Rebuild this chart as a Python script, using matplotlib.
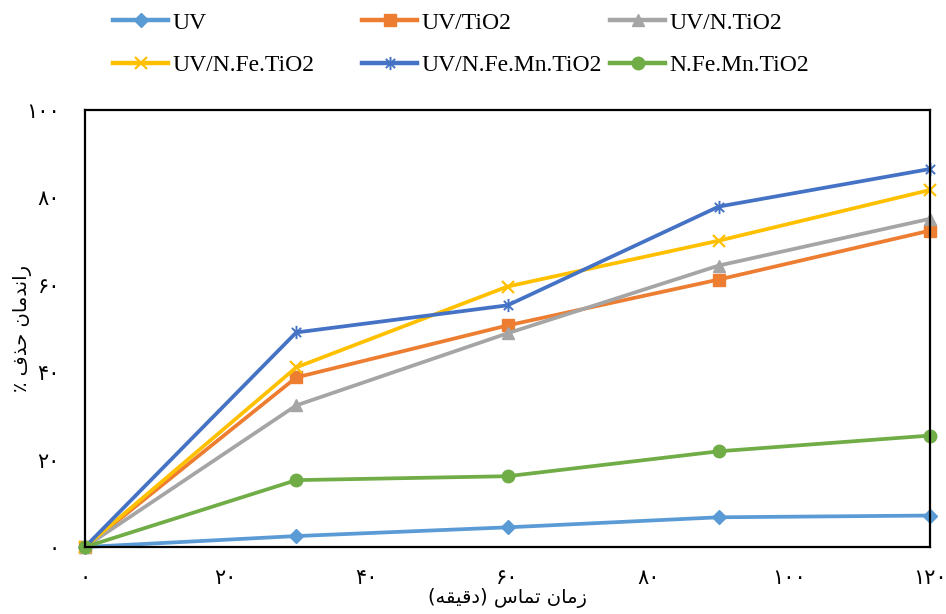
import matplotlib
matplotlib.use("Agg")
import matplotlib.pyplot as plt
from matplotlib.path import Path

# contact time (min) and removal efficiency (%) for each process
time_min = [0, 30, 60, 90, 120]
uv = [0, 2.5, 4.5, 6.8, 7.2]
uv_tio2 = [0, 38.8, 50.7, 61.2, 72.4]
uv_n_tio2 = [0, 32.4, 48.9, 64.4, 75.1]
uv_nfe_tio2 = [0, 41.1, 59.6, 70.1, 81.7]
uv_nfemn_tio2 = [0, 49.1, 55.3, 77.9, 86.5]
nfemn_tio2 = [0, 15.3, 16.2, 21.9, 25.5]

labels = ["UV", "UV/TiO2", "UV/N.TiO2", "UV/N.Fe.TiO2", "UV/N.Fe.Mn.TiO2", "N.Fe.Mn.TiO2"]
colors = ["#5B9BD5", "#ED7D31", "#A5A5A5", "#FFC000", "#4472C4", "#70AD47"]

x_ticks = [0, 20, 40, 60, 80, 100, 120]
y_ticks = [0, 20, 40, 60, 80, 100]

# axis titles, shaped by hand (presentation forms, visual order)
# x: "زمان تماس (دقیقه)"   y: "راندمان حذف ٪"
xlabel_fa = ("(\uFEEA\uFED8\uFEF4\uFED7\uFEA9) "
             "\uFEB1\uFE8E\uFEE4\uFE97 "
             "\uFEE5\uFE8E\uFEE3\uFEAF")
ylabel_fa = ("\u066A \uFED1\uFEAC\uFEA3 "
             "\uFEE5\uFE8E\uFEE3\uFEAA\uFEE7\uFE8D\uFEAD")

fa_digits = str.maketrans("0123456789", "۰۱۲۳۴۵۶۷۸۹")

# excel style asterisk: an x with a vertical bar
star = Path([(0, -1), (0, 1), (-0.7, -0.7), (0.7, 0.7), (-0.7, 0.7), (0.7, -0.7)],
            [Path.MOVETO, Path.LINETO] * 3)

fig = plt.figure(figsize=(9.46, 6.14), dpi=100)
ax = fig.add_axes([85 / 946, 1 - 547 / 614, 845 / 946, 437 / 614])

series = [uv, uv_tio2, uv_n_tio2, uv_nfe_tio2, uv_nfemn_tio2, nfemn_tio2]
styles = [
    dict(marker="D", ms=7.5),
    dict(marker="s", ms=8),
    dict(marker="^", ms=9),
    dict(marker="x", ms=8.5, mew=1.6, mfc="none"),
    dict(marker=star, ms=9.5, mew=1.4, mfc="none"),
    dict(marker="o", ms=9),
]
lines = []
for ys, lab, c, st in zip(series, labels, colors, styles):
    ln, = ax.plot(time_min, ys, color=c, lw=2.7, label=lab, clip_on=False,
                  mec=c, **({"mfc": c} | st))
    lines.append(ln)

ax.set_xlim(0, 120)
ax.set_ylim(0, 100)
ax.set_xticks(x_ticks)
ax.set_yticks(y_ticks)
ax.set_xticklabels([str(v).translate(fa_digits) for v in x_ticks], family="DejaVu Sans", fontsize=15)
ax.set_yticklabels([str(v).translate(fa_digits) for v in y_ticks], family="DejaVu Sans", fontsize=15)
ax.tick_params(axis="both", length=0)
ax.tick_params(axis="x", pad=15)
ax.tick_params(axis="y", pad=18)
for sp in ax.spines.values():
    sp.set_color("black")
    sp.set_linewidth(1.6)

ax.set_xlabel(xlabel_fa, family="DejaVu Sans", fontsize=14, labelpad=0)
ax.set_ylabel(ylabel_fa, family="DejaVu Sans", fontsize=14)
ax.yaxis.set_label_coords(-53 / 845, 0.5)

# legend laid out in three columns across the top
col_x = [113, 362, 610]
for i, cx in enumerate(col_x):
    hs = [lines[i], lines[i + 3]]
    leg = fig.legend(handles=hs, loc="upper left", bbox_to_anchor=(cx / 946, 1 - 12 / 614),
                     frameon=False, borderpad=0, borderaxespad=0, handlelength=2.35,
                     handletextpad=0.15, labelspacing=0.9,
                     prop={"family": "Liberation Serif", "size": 17})
    for lh in leg.get_lines():
        lh.set_linewidth(3.2)

fig.savefig("out.png", dpi=100)
